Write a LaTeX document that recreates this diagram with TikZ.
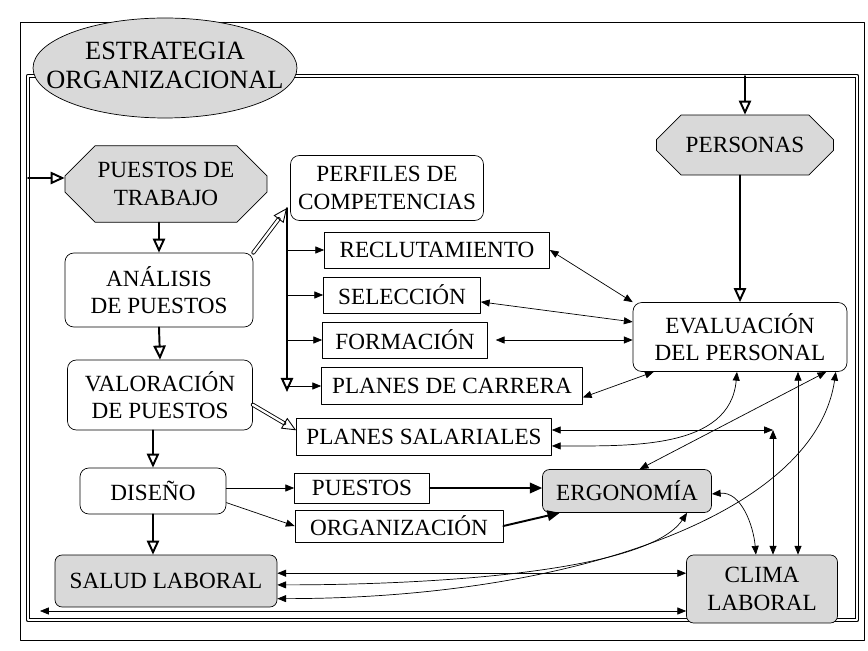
\documentclass[tikz,border=0pt]{standalone}
\usepackage{fontspec}
\setmainfont{Liberation Serif}
\usetikzlibrary{arrows.meta,shapes.geometric,shapes.misc}
\begin{document}
\begin{tikzpicture}[x=.02cm,y=-.02cm,line join=round,line cap=round,
	font=\fontsize{13.2}{15.5}\selectfont,>={Triangle[length=5pt,width=4pt]},
	caja/.style={draw,rounded corners=5pt,align=center,inner sep=1pt},
	recuadro/.style={draw,align=center,inner sep=1pt},
	gris/.style={caja,fill=gray!30,rounded corners=4pt},
	octo/.style={draw,fill=gray!30,chamfered rectangle,chamfered rectangle xsep=.3cm,chamfered rectangle ysep=.3cm,align=center,inner sep=1pt},
	elipse/.style={draw,fill=gray!30,ellipse,inner sep=0pt,minimum width=5.28cm,minimum height=2cm,font=\fontsize{15}{17}\selectfont},
	grueso/.style={line width=1.1pt,-{Triangle[open,length=8pt,width=7pt]}},
	doble/.style={double,double distance=1.3pt,line width=.5pt,-{Triangle[open,length=8pt,width=7pt]}},
	fuerte/.style={line width=1.1pt,-{Triangle[length=7pt,width=6pt]}}]
	\useasboundingbox (0,0) rectangle (868,651);
	\def\ancho{857} % borde derecho del marco
	\def\bajo{620} % borde inferior del marco
	\draw[line width=.5pt] (20,22) rectangle (864,640);
	\draw[double,double distance=.9pt,line width=.9pt] (28,76) rectangle (\ancho,\bajo);
	\path
	(165,68) node[elipse] (estrategia) {\makebox[0pt]{\begin{tabular}{@{}c@{}}ESTRATEGIA\\ORGANIZACIONAL\end{tabular}}}
	(166,184) node[octo,minimum width=4.04cm,minimum height=1.36cm] (trabajo) {PUESTOS DE\\TRABAJO}
	(745,145) node[octo,minimum width=3.54cm,minimum height=1.2cm] (personas) {PERSONAS}
	(387,188) node[caja,minimum width=3.86cm,minimum height=1.3cm] (perfiles) {PERFILES DE\\COMPETENCIAS}
	(437,250) node[recuadro,minimum width=4.5cm,minimum height=.72cm] (reclu) {RECLUTAMIENTO}
	(402,295) node[recuadro,minimum width=3.14cm,minimum height=.72cm] (selec) {SELECCIÓN}
	(405,340) node[recuadro,minimum width=3.3cm,minimum height=.72cm] (forma) {FORMACIÓN}
	(452,386) node[recuadro,minimum width=5.22cm,minimum height=.74cm] (carrera) {PLANES DE CARRERA}
	(159,290) node[caja,minimum width=3.76cm,minimum height=1.48cm] (analisis) {ANÁLISIS\\DE PUESTOS}
	(160,395) node[caja,minimum width=3.7cm,minimum height=1.4cm] (valora) {VALORACIÓN\\DE PUESTOS}
	(424,437) node[recuadro,minimum width=5.1cm,minimum height=.74cm] (salar) {PLANES SALARIALES}
	(153,491) node[caja,minimum width=2.92cm,minimum height=.92cm] (diseno) {DISEÑO}
	(362,488) node[recuadro,minimum width=2.7cm,minimum height=.6cm] (puestos) {PUESTOS}
	(399,526) node[recuadro,minimum width=4.16cm,minimum height=.64cm] (organiza) {ORGANIZACIÓN}
	(627,491) node[gris,minimum width=3.38cm,minimum height=.86cm] (ergo) {ERGONOMÍA}
	(166,581) node[gris,minimum width=4.44cm,minimum height=1.04cm] (salud) {SALUD LABORAL}
	(762,589) node[gris,minimum width=3.02cm,minimum height=1.36cm] (clima) {CLIMA\\LABORAL}
	(740,337) node[caja,minimum width=4.28cm,minimum height=1.38cm] (eval) {EVALUACIÓN\\DEL PERSONAL}
	;
	\coordinate (izq) at (28,178);
	\coordinate (arriba) at (745,76);
	\coordinate (bus) at (287,208);
	\coordinate (busfin) at (287,392);
	\coordinate (esq) at (773,430);
	\coordinate (fondo) at (40,611);
	% columna izquierda
	\draw[grueso] (izq)--(izq -| trabajo.west);
	\draw[grueso] (analisis.north |- trabajo.south)--(analisis.north);
	\draw[grueso] (analisis.south)--(valora.north);
	\draw[grueso] (diseno.north |- valora.south)--(diseno.north);
	\draw[grueso] (diseno.south)--(diseno.south |- salud.north);
	\draw[doble] (analisis.north east)--(bus);
	\draw[doble] (valora.-6)--(salar.177);
	\draw[grueso] (bus)--(busfin);
	\draw[->] (reclu.west -| bus)--(reclu.west);
	\draw[->] (selec.west -| bus)--(selec.west);
	\draw[->] (forma.west -| bus)--(forma.west);
	\draw[->] (carrera.west -| bus)--(carrera.west);
	\draw[->] (puestos.west -| diseno.east)--(puestos.west);
	\draw[->] (diseno.-9)--(organiza.west);
	\draw[fuerte] (puestos.east)--(puestos.east -| ergo.west);
	\draw[fuerte] (organiza.east)--(ergo.198);
	% columna derecha
	\draw[grueso] (arriba)--(personas.north);
	\draw[grueso] (eval.north |- personas.south)--(eval.north);
	\draw[<->] (reclu.east)--(eval.162);
	\draw[<->] (selec.-5)--(eval.172);
	\draw[<->] ([xshift=4.5pt]forma.east)--(forma.east -| eval.west);
	\draw[<->] (carrera.-5)--(eval.202);
	\draw[<->] (eval.265) to[out=-95,in=0] (salar.-4);
	\draw[<->] (esq -| salar.east)--(esq);
	\draw[<->] (esq)--(esq |- clima.north);
	\draw[<->] (eval.-22)--(ergo.60);
	\draw[<->] (eval.-31)--(eval.-31 |- clima.north);
	\draw[<->] (ergo.-2) to[out=5,in=95] (clima.100);
	\draw[<->] (eval.-20) .. controls +(-20,140) and +(300,0) .. (salud.-9);
	\draw[<->] (ergo.-20) .. controls +(-40,60) and +(150,0) .. (salud.-2);
	\draw[<->] (salud.4)--(salud.4 -| clima.west);
	\draw[<->] (fondo)--(fondo -| clima.west);
\end{tikzpicture}
\end{document}
